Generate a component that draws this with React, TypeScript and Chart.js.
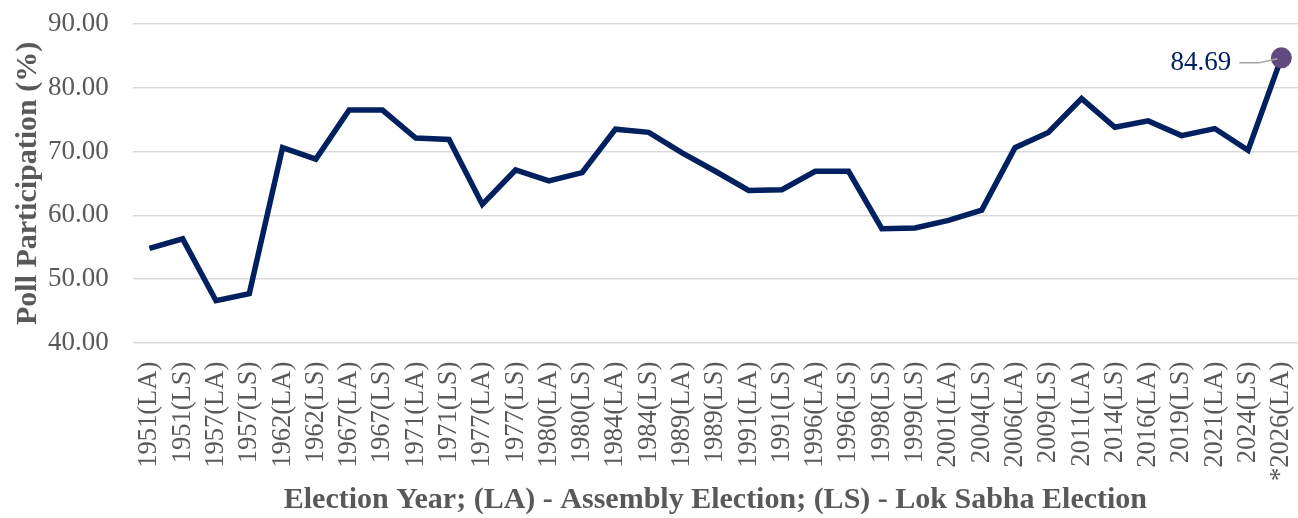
import React, { useEffect, useRef } from "react";
import { Chart, registerables } from "chart.js";

Chart.register(...registerables);

const categories: string[] = [
  "1951(LA)", "1951(LS)", "1957(LA)", "1957(LS)", "1962(LA)", "1962(LS)",
  "1967(LA)", "1967(LS)", "1971(LA)", "1971(LS)", "1977(LA)", "1977(LS)",
  "1980(LA)", "1980(LS)", "1984(LA)", "1984(LS)", "1989(LA)", "1989(LS)",
  "1991(LA)", "1991(LS)", "1996(LA)", "1996(LS)", "1998(LS)", "1999(LS)",
  "2001(LA)", "2004(LS)", "2006(LA)", "2009(LS)", "2011(LA)", "2014(LS)",
  "2016(LA)", "2019(LS)", "2021(LA)", "2024(LS)", "*2026(LA)",
];

const pollParticipation: number[] = [
  54.8, 56.3, 46.6, 47.7, 70.6, 68.8, 76.5, 76.5, 72.1, 71.9, 61.7, 67.1,
  65.4, 66.7, 73.5, 73.0, 69.8, 66.9, 63.9, 64.0, 66.9, 66.9, 57.9, 58.0,
  59.2, 60.8, 70.6, 73.0, 78.3, 73.8, 74.8, 72.5, 73.6, 70.2, 84.69,
];

const yTicks: number[] = [40, 50, 60, 70, 80, 90];

const FONT = "'Liberation Serif', 'Times New Roman', serif";
const GREY = "#595959";
const NAVY = "#002060";
const PURPLE = "#5f4b80";

const lastLabelPlugin = {
  id: "lastLabel",
  afterDatasetsDraw(chart: any) {
    const meta = chart.getDatasetMeta(0);
    const idx = pollParticipation.length - 1;
    const pt = meta.data[idx];
    if (!pt) return;
    const ctx = chart.ctx;
    ctx.save();
    ctx.strokeStyle = "#a6a6a6";
    ctx.lineWidth = 1.5;
    ctx.beginPath();
    ctx.moveTo(pt.x - 42, pt.y + 5);
    ctx.lineTo(pt.x - 22, pt.y + 5);
    ctx.lineTo(pt.x - 4, pt.y + 1);
    ctx.stroke();
    ctx.fillStyle = NAVY;
    ctx.font = `27px ${FONT}`;
    ctx.textAlign = "right";
    ctx.textBaseline = "middle";
    ctx.fillText(pollParticipation[idx].toFixed(2), pt.x - 50, pt.y + 5);
    ctx.restore();
  },
};

export default function App() {
  const canvasRef = useRef<HTMLCanvasElement | null>(null);

  useEffect(() => {
    if (!canvasRef.current) return;
    const last = pollParticipation.length - 1;
    const chart = new Chart(canvasRef.current, {
      type: "line",
      data: {
        labels: categories,
        datasets: [
          {
            data: pollParticipation,
            borderColor: NAVY,
            borderWidth: 5.5,
            tension: 0,
            fill: false,
            pointRadius: (c: any) => (c.dataIndex === last ? 10.5 : 0),
            pointBackgroundColor: PURPLE,
            pointBorderColor: PURPLE,
            pointBorderWidth: 0,
          },
        ],
      },
      options: {
        responsive: false,
        animation: false,
        maintainAspectRatio: false,
        layout: { autoPadding: false, padding: { top: 24, right: 0, left: 0, bottom: 0 } },
        plugins: {
          legend: { display: false },
          tooltip: { enabled: false },
        },
        scales: {
          x: {
            offset: true,
            grid: {
              display: true,
              drawOnChartArea: false,
              drawTicks: true,
              tickLength: 19,
              color: "rgba(0,0,0,0)",
            },
            border: { display: false },
            ticks: {
              autoSkip: false,
              maxRotation: 90,
              minRotation: 90,
              padding: 0,
              color: GREY,
              font: { family: FONT, size: 26.5, lineHeight: 0.6 },
            },
            title: {
              display: true,
              text: "Election Year; (LA) - Assembly Election; (LS) - Lok Sabha Election",
              color: GREY,
              font: { family: FONT, size: 30, weight: "bold" },
              padding: { top: 1, bottom: 0 },
            },
          },
          y: {
            min: 40,
            max: 90,
            afterBuildTicks: (axis: any) => {
              axis.ticks = yTicks.map((v) => ({ value: v }));
            },
            grid: {
              color: "#d9d9d9",
              lineWidth: 1.5,
              drawTicks: true,
              tickLength: 24,
              tickColor: "rgba(0,0,0,0)",
            },
            border: { display: false },
            ticks: {
              padding: 0,
              color: GREY,
              font: { family: FONT, size: 27 },
              callback: (v: any) => Number(v).toFixed(2),
            },
            title: {
              display: true,
              text: "Poll Participation (%)",
              color: GREY,
              font: { family: FONT, size: 30, weight: "bold" },
              padding: { top: 10, bottom: 2 },
            },
          },
        },
      },
      plugins: [lastLabelPlugin],
    });
    return () => chart.destroy();
  }, []);

  return (
    <div style={{ position: "fixed", left: 0, top: 0, width: 1298, height: 518, background: "#fff" }}>
      <canvas ref={canvasRef} width={1298} height={518} style={{ display: "block" }} />
    </div>
  );
}
